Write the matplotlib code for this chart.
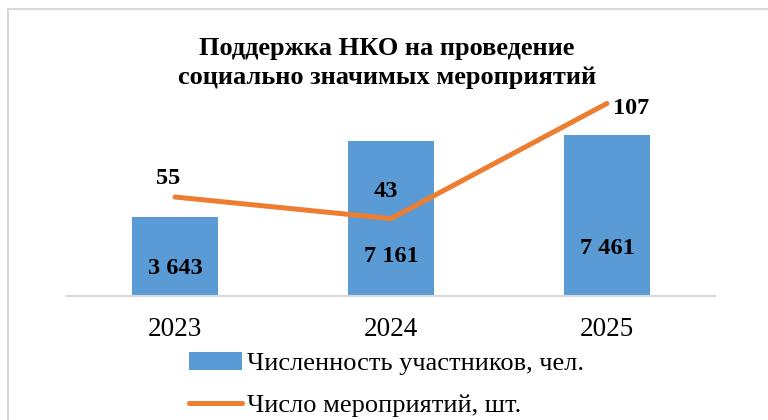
import matplotlib.pyplot as plt
from matplotlib.patches import Rectangle
import numpy as np

plt.rcParams['font.family'] = ['Liberation Serif', 'DejaVu Serif']

years = ["2023", "2024", "2025"]
participants = [3643, 7161, 7461]
events = [55, 43, 107]
part_labels = ["3 643", "7 161", "7 461"]

bar_color = "#5B9BD5"
line_color = "#ED7D31"

fig = plt.figure(figsize=(7.68, 4.2), dpi=100)
ax = fig.add_axes([67 / 768, 124 / 420, 648 / 768, 196 / 420])
ax2 = ax.twinx()

x = np.arange(len(years))
bars = ax.bar(x, participants, width=0.4, color=bar_color,
              label="Численность участников, чел.", zorder=2)
line, = ax2.plot(x, events, color=line_color, lw=3.6,
                 solid_capstyle="round", solid_joinstyle="miter",
                 label="Число мероприятий, шт.", zorder=3)
ax2.set_zorder(ax.get_zorder() + 1)
ax2.patch.set_visible(False)

ax.set_xlim(-0.5, 2.5)
ax.set_ylim(0, 9074)
ax2.set_ylim(0, 108.9)

for a in (ax, ax2):
    for s in a.spines.values():
        s.set_visible(False)
    a.set_yticks([])
ax.spines["bottom"].set_visible(True)
ax.spines["bottom"].set_color("#d9d9d9")
ax.spines["bottom"].set_linewidth(1.5)

ax.set_xticks(x)
ax.set_xticklabels(years, fontsize=19.5)
ax.tick_params(axis="x", length=0, pad=15)

# bar labels near the base
bar_offsets = [28, 40, 47]
for i in range(len(x)):
    ax.annotate(part_labels[i], xy=(x[i], 0), xytext=(0, bar_offsets[i] * 0.72),
                textcoords="offset points", ha="center", va="center",
                fontsize=17.5, fontweight="bold")

# line labels
ax2.annotate(str(events[0]), xy=(x[0], events[0]), xytext=(-5, 6),
             textcoords="offset points", ha="center", va="bottom",
             fontsize=17.5, fontweight="bold")
ax2.annotate(str(events[1]), xy=(x[1], events[1]), xytext=(-4, 12),
             textcoords="offset points", ha="center", va="bottom",
             fontsize=17.5, fontweight="bold")
ax2.annotate(str(events[2]), xy=(x[2], events[2]), xytext=(4, -4),
             textcoords="offset points", ha="left", va="center",
             fontsize=17.5, fontweight="bold")

fig.text(387 / 768, 1 - 63 / 420,
         "Поддержка НКО на проведение\nсоциально значимых мероприятий",
         ha="center", va="center", fontsize=19, fontweight="bold",
         linespacing=1.3)

fig.legend(handles=[bars, line], loc="upper left",
           bbox_to_anchor=(189 / 768, 1 - 352 / 420), frameon=False,
           fontsize=19, handlelength=2.0, handletextpad=0.2,
           labelspacing=0.7, borderpad=0, borderaxespad=0)

fig.patches.append(Rectangle((8 / 768, -0.1), 1.2, 1 - 9 / 420 + 0.1,
                             transform=fig.transFigure, fill=False,
                             edgecolor="#d9d9d9", lw=1.5))

fig.savefig("out.png", dpi=100)
